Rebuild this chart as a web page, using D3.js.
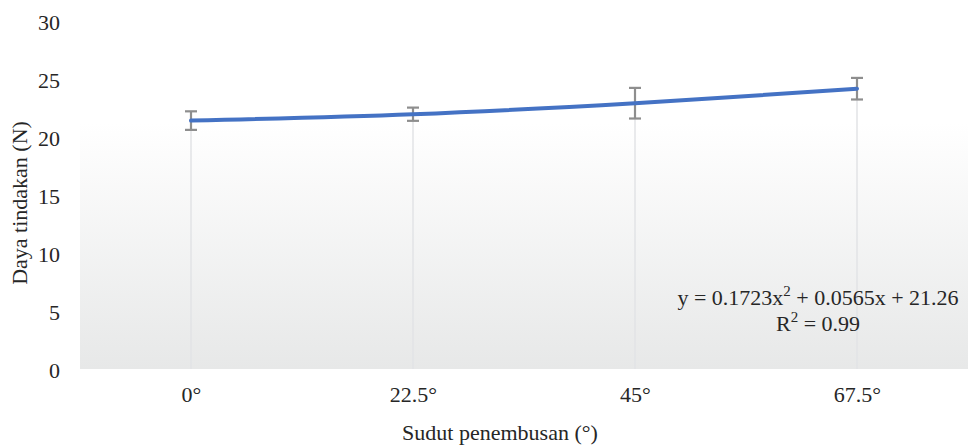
<!DOCTYPE html>
<html>
<head>
<meta charset="utf-8">
<script src="https://cdn.jsdelivr.net/npm/d3@7"></script>
<style>
  html, body { margin: 0; padding: 0; background: #fff; }
  svg { display: block; }
  text { font-family: "Liberation Serif", "DejaVu Serif", serif; fill: #262626; }
</style>
</head>
<body>
<svg id="chart" width="969" height="445"></svg>
<script>
// Penetration angle categories and mean force with standard deviation
const categories = ["0°", "22.5°", "45°", "67.5°"];
const meanForce = [21.5, 22.05, 23.0, 24.25];
const stdDev = [0.8, 0.57, 1.32, 0.93];
const yTicks = [0, 5, 10, 15, 20, 25, 30];
const trendLine1 = ["y = 0.1723x", "2", " + 0.0565x + 21.26"];
const trendLine2 = ["R", "2", " = 0.99"];
const xTitle = "Sudut penembusan (°)";
const yTitle = "Daya tindakan (N)";

const FONT = "'Liberation Serif', serif";
const FS = 22;

const svg = d3.select("#chart");
const plot = { left: 80, right: 968, top: 123, bottom: 369 };

const x = d3.scalePoint().domain(categories).range([plot.left, plot.right]).padding(0.5);
const y = d3.scaleLinear().domain([0, 30]).range([370, 22]);

// Plot area background: white fading to light grey
const defs = svg.append("defs");
const grad = defs.append("linearGradient").attr("id", "bg").attr("x1", 0).attr("y1", 0).attr("x2", 0).attr("y2", 1);
grad.append("stop").attr("offset", "0%").attr("stop-color", "#ffffff");
grad.append("stop").attr("offset", "100%").attr("stop-color", "#e7e8e8");
svg.append("rect")
  .attr("x", plot.left).attr("y", plot.top)
  .attr("width", plot.right - plot.left).attr("height", plot.bottom - plot.top)
  .attr("fill", "url(#bg)");

// Drop lines from each point to the category axis
svg.append("g").selectAll("line").data(categories).join("line")
  .attr("x1", d => x(d)).attr("x2", d => x(d))
  .attr("y1", (d, i) => y(meanForce[i] - stdDev[i]))
  .attr("y2", plot.bottom)
  .attr("stroke", "#e2e3e6").attr("stroke-width", 1.5);

// Y axis labels
const yAxis = svg.append("g").attr("transform", "translate(60,0)")
  .call(d3.axisLeft(y).tickValues(yTicks).tickSize(0).tickPadding(0));
yAxis.select(".domain").remove();
yAxis.selectAll("text").attr("font-size", FS).attr("fill", "#262626").attr("font-family", FONT);

// X axis labels
const xAxis = svg.append("g").attr("transform", "translate(0,386)")
  .call(d3.axisBottom(x).tickSize(0).tickPadding(0));
xAxis.select(".domain").remove();
xAxis.selectAll("text").attr("font-size", FS).attr("fill", "#262626").attr("font-family", FONT);

// Error bars
const eb = svg.append("g").attr("stroke", "#8e8e8e").attr("stroke-width", 2.2).attr("fill", "none");
categories.forEach((c, i) => {
  const cx = x(c), top = y(meanForce[i] + stdDev[i]), bot = y(meanForce[i] - stdDev[i]);
  eb.append("line").attr("x1", cx).attr("x2", cx).attr("y1", top).attr("y2", bot);
  eb.append("line").attr("x1", cx - 6).attr("x2", cx + 6).attr("y1", top).attr("y2", top);
  eb.append("line").attr("x1", cx - 6).attr("x2", cx + 6).attr("y1", bot).attr("y2", bot);
});

// Smoothed series line
const line = d3.line()
  .x((d, i) => x(categories[i]))
  .y(d => y(d))
  .curve(d3.curveCatmullRom.alpha(0.5));
svg.append("path").datum(meanForce)
  .attr("d", line)
  .attr("fill", "none")
  .attr("stroke", "#4472c4")
  .attr("stroke-width", 4)
  .attr("stroke-linecap", "round");

// Trendline equation label
const eqX = 818;
const eq = svg.append("text").attr("x", eqX).attr("y", 305).attr("text-anchor", "middle").attr("font-size", FS);
eq.append("tspan").text(trendLine1[0]);
eq.append("tspan").attr("dy", -9).attr("font-size", 15).text(trendLine1[1]);
eq.append("tspan").attr("dy", 9).text(trendLine1[2]);
const r2 = svg.append("text").attr("x", eqX).attr("y", 331).attr("text-anchor", "middle").attr("font-size", FS);
r2.append("tspan").text(trendLine2[0]);
r2.append("tspan").attr("dy", -9).attr("font-size", 15).text(trendLine2[1]);
r2.append("tspan").attr("dy", 9).text(trendLine2[2]);

// Axis titles
svg.append("text").attr("x", 500).attr("y", 440)
  .attr("text-anchor", "middle").attr("font-size", FS).text(xTitle);
svg.append("text").attr("transform", "translate(27,203) rotate(-90)")
  .attr("text-anchor", "middle").attr("font-size", FS).text(yTitle);
</script>
</body>
</html>
